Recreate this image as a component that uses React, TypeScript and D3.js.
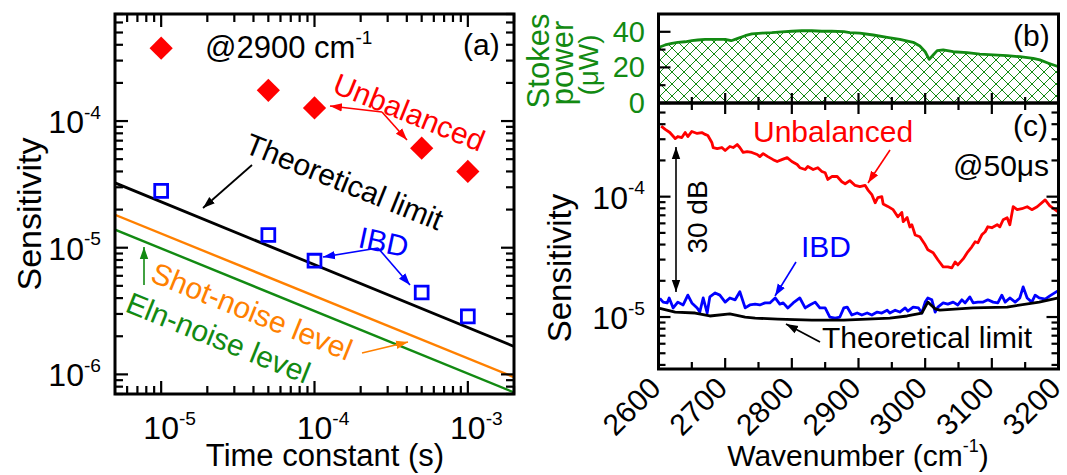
import React, { useEffect, useRef } from 'react';
import * as d3 from 'd3';

const WIDTH = 1067;
const HEIGHT = 475;
const FONT = 'Arial, "Liberation Sans", Helvetica, sans-serif';

const RED = '#ff0000';
const BLUE = '#0000ff';
const ORANGE = '#ff8000';
const GREEN = '#128a12';

// ---- panel (a): sensitivity vs time constant, @2900 cm-1
const timeConstants = [1e-5, 5e-5, 1e-4, 5e-4, 1e-3];
const unbalancedVsTau = [3.76e-4, 1.75e-4, 1.27e-4, 6.1e-5, 4.0e-5];
const ibdVsTau = [2.81e-5, 1.26e-5, 7.9e-6, 4.43e-6, 2.87e-6];
const lineTau = [5e-6, 2e-3];
const theoryVsTau = [3.25e-5, 1.66e-6];
const shotVsTau = [1.82e-5, 0.95e-6];
const elnVsTau = [1.39e-5, 0.72e-6];
const tauTickExps = ['-5', '-4', '-3'];
const sensTickExpsA = ['-4', '-5', '-6'];

// ---- panel (b): Stokes power (uW)
const stokesWn = [2600, 2610, 2620, 2629, 2640, 2650, 2659, 2670, 2680, 2689, 2700, 2709, 2719, 2730, 2740, 2755,
  2770, 2785, 2800, 2815, 2830, 2845, 2860, 2878, 2887, 2902, 2922, 2943, 2962, 2982, 2992, 3000, 3006, 3012,
  3018, 3027, 3042, 3063, 3082, 3102, 3123, 3142, 3162, 3172, 3184, 3199];
const stokesPower = [31.2, 32.6, 33.5, 34.1, 34.4, 35.0, 35.4, 35.8, 35.8, 35.8, 35.8, 35.0, 36.3, 37.8, 38.8, 39.3,
  39.5, 39.9, 40.3, 40.6, 40.6, 40.3, 40.3, 40.1, 39.5, 39.2, 38.2, 36.9, 35.8, 34.1, 32.0, 28.8, 24.5, 27.0,
  29.4, 29.8, 28.8, 28.3, 27.5, 27.0, 26.6, 26.0, 25.1, 24.2, 22.5, 20.5];
const powerTicks = ['0', '20', '40'];

// ---- panel (c): sensitivity vs wavenumber, @50 us
const unbalWn = [2604, 2610, 2617, 2625, 2629, 2635, 2640, 2644, 2650, 2658,
  2665, 2670, 2674, 2680, 2682, 2688, 2695, 2700, 2707, 2712,
  2718, 2722, 2727, 2733, 2740, 2748, 2752, 2757, 2764, 2772,
  2778, 2785, 2793, 2800, 2808, 2812, 2820, 2824, 2832, 2839,
  2845, 2850, 2854, 2860, 2868, 2875, 2880, 2887, 2895, 2902,
  2910, 2914, 2920, 2925, 2929, 2935, 2937, 2944, 2952, 2959,
  2965, 2967, 2973, 2977, 2980, 2985, 2992, 3000, 3004, 3012,
  3019, 3027, 3034, 3040, 3045, 3049, 3057, 3064, 3070, 3075,
  3079, 3085, 3090, 3094, 3100, 3108, 3112, 3117, 3123, 3127,
  3132, 3138, 3145, 3153, 3160, 3168, 3180, 3187, 3199];
const unbalSens = [3.85e-4, 3.62e-4, 3.41e-4, 3.04e-4, 3.16e-4, 3.10e-4, 3.41e-4, 3.16e-4, 3.48e-4, 3.35e-4,
  3.41e-4, 3.29e-4, 3.22e-4, 2.82e-4, 2.56e-4, 2.51e-4, 2.56e-4, 2.42e-4, 2.61e-4, 2.56e-4,
  2.71e-4, 2.56e-4, 2.33e-4, 2.37e-4, 2.33e-4, 2.24e-4, 2.15e-4, 2.28e-4, 2.15e-4, 2.03e-4,
  1.96e-4, 2.03e-4, 2.11e-4, 1.96e-4, 1.85e-4, 1.74e-4, 1.68e-4, 1.78e-4, 1.68e-4, 1.74e-4,
  1.62e-4, 1.58e-4, 1.39e-4, 1.47e-4, 1.47e-4, 1.33e-4, 1.28e-4, 1.36e-4, 1.24e-4, 1.21e-4,
  1.24e-4, 1.14e-4, 1.04e-4, 8.9e-5, 9.8e-5, 1.0e-4, 8.7e-5, 8.3e-5, 7.8e-5, 6.8e-5,
  7.4e-5, 6.2e-5, 6.7e-5, 5.6e-5, 5.85e-5, 4.8e-5, 4.64e-5, 3.98e-5, 3.62e-5, 3.42e-5,
  2.99e-5, 2.61e-5, 2.61e-5, 2.56e-5, 2.87e-5, 2.71e-5, 3.04e-5, 3.48e-5, 3.83e-5, 4.22e-5,
  4.14e-5, 4.82e-5, 5.11e-5, 5.62e-5, 5.52e-5, 5.85e-5, 5.62e-5, 6.43e-5, 6.68e-5, 5.85e-5,
  8.25e-5, 7.8e-5, 7.94e-5, 8.25e-5, 7.8e-5, 8.25e-5, 9.4e-5, 8.4e-5, 7.5e-5];

const ibdWn = [2602, 2607, 2613, 2616, 2622, 2629, 2637, 2644, 2650, 2658,
  2662, 2667, 2673, 2677, 2685, 2692, 2700, 2707, 2715, 2722,
  2730, 2737, 2745, 2752, 2760, 2767, 2775, 2782, 2787, 2794,
  2802, 2812, 2820, 2827, 2835, 2842, 2850, 2857, 2865, 2872,
  2878, 2883, 2890, 2898, 2905, 2913, 2920, 2928, 2935, 2943,
  2947, 2955, 2962, 2970, 2974, 2982, 2990, 2995, 3000, 3004,
  3010, 3015, 3019, 3027, 3034, 3042, 3049, 3055, 3060, 3067,
  3072, 3079, 3087, 3094, 3102, 3109, 3115, 3120, 3127, 3135,
  3142, 3147, 3153, 3160, 3165, 3171, 3180, 3187, 3199];
const ibdSens = [1.43e-5, 1.33e-5, 1.31e-5, 1.44e-5, 1.19e-5, 1.33e-5, 1.26e-5, 1.52e-5, 1.31e-5, 1.19e-5,
  1.10e-5, 1.44e-5, 1.08e-5, 1.47e-5, 1.585e-5, 1.52e-5, 1.33e-5, 1.44e-5, 1.39e-5, 1.62e-5,
  1.19e-5, 1.26e-5, 1.28e-5, 1.26e-5, 1.31e-5, 1.31e-5, 1.44e-5, 1.28e-5, 1.31e-5, 1.19e-5,
  1.31e-5, 1.44e-5, 1.19e-5, 1.26e-5, 1.33e-5, 1.19e-5, 1.19e-5, 1.0e-5, 0.98e-5, 1.0e-5,
  1.19e-5, 1.21e-5, 1.04e-5, 1.08e-5, 1.04e-5, 1.08e-5, 1.04e-5, 1.10e-5, 1.08e-5, 1.14e-5,
  1.08e-5, 1.14e-5, 1.10e-5, 1.19e-5, 1.12e-5, 1.21e-5, 1.19e-5, 1.08e-5, 1.33e-5, 1.44e-5,
  1.39e-5, 1.10e-5, 1.21e-5, 1.31e-5, 1.28e-5, 1.33e-5, 1.26e-5, 1.39e-5, 1.31e-5, 1.47e-5,
  1.31e-5, 1.33e-5, 1.33e-5, 1.39e-5, 1.33e-5, 1.31e-5, 1.52e-5, 1.33e-5, 1.44e-5, 1.33e-5,
  1.44e-5, 1.78e-5, 1.44e-5, 1.33e-5, 1.52e-5, 1.44e-5, 1.41e-5, 1.50e-5, 1.65e-5];

const limitWn = [2602, 2625, 2655, 2677, 2707, 2730, 2745, 2779, 2830, 2878, 2913, 2947, 2973, 2995, 3004, 3015,
  3022, 3072, 3123, 3171, 3200];
const limitSens = [1.18e-5, 1.10e-5, 1.08e-5, 1.02e-5, 1.06e-5, 1.0e-5, 0.98e-5, 0.96e-5, 0.944e-5, 0.944e-5,
  0.96e-5, 0.98e-5, 1.02e-5, 1.08e-5, 1.33e-5, 1.17e-5, 1.14e-5, 1.19e-5, 1.21e-5, 1.33e-5, 1.44e-5];
const wnTicks = [2600, 2700, 2800, 2900, 3000, 3100, 3200];
const sensTickExpsC = ['-4', '-5'];

// minor ticks 2..9 x 10^k inside a log domain
const logMinors = (lo, hi) => {
  const out = [];
  for (let e = Math.floor(Math.log10(lo)); e <= Math.ceil(Math.log10(hi)); e++) {
    for (let m = 2; m <= 9; m++) {
      const v = m * Math.pow(10, e);
      if (v >= lo && v <= hi) out.push(v);
    }
  }
  return out;
};

const App = () => {
  const svgRef = useRef(null);

  useEffect(() => {
    const svg = d3.select(svgRef.current);
    svg.selectAll('*').remove();
    const defs = svg.append('defs');

    // arrow heads, one per colour
    [['k', '#000'], ['r', RED], ['b', BLUE], ['o', ORANGE], ['g', GREEN]].forEach(([id, c]) => {
      defs.append('marker')
        .attr('id', 'ah-' + id)
        .attr('viewBox', '0 0 10 10')
        .attr('refX', 10).attr('refY', 5)
        .attr('markerWidth', 12).attr('markerHeight', 12)
        .attr('markerUnits', 'userSpaceOnUse')
        .attr('orient', 'auto-start-reverse')
        .append('path').attr('d', 'M0,1.5 L10,5 L0,8.5 z').attr('fill', c);
    });

    // cross hatch for the Stokes power area
    const pat = defs.append('pattern').attr('id', 'hatch')
      .attr('patternUnits', 'userSpaceOnUse').attr('width', 12).attr('height', 12);
    pat.append('path').attr('d', 'M0,0L12,12M12,0L0,12')
      .attr('stroke', GREEN).attr('stroke-width', 1).attr('fill', 'none');

    const text = (g, x, y, str, opts = {}) => {
      const { size = 30, color = '#000', rotate = 0, anchor = 'start' } = opts;
      return g.append('text')
        .attr('transform', `translate(${x},${y}) rotate(${rotate})`)
        .attr('text-anchor', anchor)
        .attr('font-family', FONT)
        .attr('font-size', size)
        .attr('fill', color)
        .text(str);
    };
    const powText = (g, x, y, exp, anchor, size = 32) => {
      const t = g.append('text').attr('x', x).attr('y', y)
        .attr('text-anchor', anchor).attr('font-family', FONT).attr('font-size', size);
      t.append('tspan').text('10');
      t.append('tspan').attr('dy', -size * 0.45).attr('font-size', size * 0.6).text(exp);
      return t;
    };
    const arrow = (g, x1, y1, x2, y2, color, id, both = false, w = 1.6) => {
      const l = g.append('line')
        .attr('x1', x1).attr('y1', y1).attr('x2', x2).attr('y2', y2)
        .attr('stroke', color).attr('stroke-width', w)
        .attr('marker-end', `url(#ah-${id})`);
      if (both) l.attr('marker-start', `url(#ah-${id})`);
    };
    // inward ticks: side = left/right/top/bottom of a frame
    const ticks = (g, vals, scale, side, at, len, w = 2.2) => {
      vals.forEach(v => {
        const p = scale(v);
        let a;
        if (side === 'left') a = [at, p, at + len, p];
        else if (side === 'right') a = [at, p, at - len, p];
        else if (side === 'top') a = [p, at, p, at + len];
        else a = [p, at, p, at - len];
        g.append('line').attr('x1', a[0]).attr('y1', a[1]).attr('x2', a[2]).attr('y2', a[3])
          .attr('stroke', '#000').attr('stroke-width', w);
      });
    };
    const frame = (g, x0, y0, x1, y1) => g.append('rect')
      .attr('x', x0).attr('y', y0).attr('width', x1 - x0).attr('height', y1 - y0)
      .attr('fill', 'none').attr('stroke', '#000').attr('stroke-width', 3);

    // ================= panel (a) =================
    const A = { l: 115, r: 514, t: 14, b: 394 };
    const xA = d3.scaleLog().domain([5e-6, 2e-3]).range([A.l, A.r]);
    const yA = d3.scaleLog().domain([7e-7, 7e-4]).range([A.b, A.t]);
    const gA = svg.append('g');
    defs.append('clipPath').attr('id', 'clipA').append('rect')
      .attr('x', A.l).attr('y', A.t).attr('width', A.r - A.l).attr('height', A.b - A.t);

    const lineA = d3.line().x(d => xA(d[0])).y(d => yA(d[1]));
    const plotA = gA.append('g').attr('clip-path', 'url(#clipA)');
    [[elnVsTau, GREEN, 2.4], [shotVsTau, ORANGE, 2.4], [theoryVsTau, '#000', 2.8]].forEach(([vals, c, w]) => {
      plotA.append('path').datum(lineTau.map((t, i) => [t, vals[i]]))
        .attr('fill', 'none').attr('stroke', c).attr('stroke-width', w).attr('d', lineA);
    });
    plotA.selectAll('.dia').data(timeConstants.map((t, i) => [t, unbalancedVsTau[i]]))
      .enter().append('path')
      .attr('transform', d => `translate(${xA(d[0])},${yA(d[1])}) rotate(45)`)
      .attr('d', d3.symbol(d3.symbolSquare, 270)())
      .attr('fill', RED);
    plotA.selectAll('.sq').data(timeConstants.map((t, i) => [t, ibdVsTau[i]]))
      .enter().append('path')
      .attr('transform', d => `translate(${xA(d[0])},${yA(d[1])})`)
      .attr('d', d3.symbol(d3.symbolSquare, 165)())
      .attr('fill', 'none').attr('stroke', BLUE).attr('stroke-width', 2.8);

    frame(gA, A.l, A.t, A.r, A.b);
    const majA = [1e-5, 1e-4, 1e-3];
    const minA = logMinors(5e-6, 2e-3).filter(v => !majA.some(m => Math.abs(m - v) / m < 1e-6));
    ticks(gA, majA, xA, 'bottom', A.b, 13);
    ticks(gA, majA, xA, 'top', A.t, 13);
    ticks(gA, minA, xA, 'bottom', A.b, 8);
    ticks(gA, minA, xA, 'top', A.t, 8);
    const majYA = [1e-4, 1e-5, 1e-6];
    const minYA = logMinors(7e-7, 7e-4);
    ticks(gA, majYA, yA, 'left', A.l, 13);
    ticks(gA, majYA, yA, 'right', A.r, 13);
    ticks(gA, minYA, yA, 'left', A.l, 8);
    ticks(gA, minYA, yA, 'right', A.r, 8);

    majA.forEach((v, i) => powText(gA, xA(v) - 17.8, 439, tauTickExps[i], 'start'));
    majYA.forEach((v, i) => powText(gA, 101, yA(v) + 12, sensTickExpsA[i], 'end'));

    text(gA, 325, 466, 'Time constant (s)', { size: 31, anchor: 'middle' });
    text(gA, 41, 214, 'Sensitivity', { size: 34, anchor: 'middle', rotate: -90 });

    const at = gA.append('text').attr('x', 205).attr('y', 58)
      .attr('font-family', FONT).attr('font-size', 31);
    at.append('tspan').text('@2900 cm');
    at.append('tspan').attr('dy', -14).attr('font-size', 19).text('-1');
    text(gA, 463, 55, '(a)', { size: 30 });

    text(gA, 331, 92, 'Unbalanced', { color: RED, rotate: 22 });
    arrow(gA, 382, 112, 330, 106, RED, 'r');
    arrow(gA, 382, 112, 407, 140, RED, 'r');

    text(gA, 243, 152, 'Theoretical limit', { rotate: 22 });
    arrow(gA, 252, 165, 203, 208, '#000', 'k', false, 1.8);

    text(gA, 357, 247, 'IBD', { color: BLUE, rotate: 12 });
    arrow(gA, 378, 248, 323, 257, BLUE, 'b');
    arrow(gA, 378, 248, 410, 285, BLUE, 'b');

    text(gA, 149, 281, 'Shot-noise level', { color: ORANGE, rotate: 22 });
    arrow(gA, 362, 353, 408, 342, ORANGE, 'o');
    text(gA, 124, 311, 'Eln-noise level', { color: GREEN, rotate: 22 });
    arrow(gA, 144, 285, 144, 247, GREEN, 'g');

    // ================= panel (b) =================
    const B = { l: 658.5, r: 1058.5, t: 14, b: 103 };
    const xW = d3.scaleLinear().domain([2600, 3200]).range([B.l, B.r]);
    const yB = d3.scaleLinear().domain([0, 50]).range([B.b, B.t]);
    const gB = svg.append('g');
    const stokes = stokesWn.map((w, i) => [w, stokesPower[i]]);
    gB.append('path').datum(stokes)
      .attr('fill', 'url(#hatch)')
      .attr('d', d3.area().x(d => xW(d[0])).y0(yB(0)).y1(d => yB(d[1])));
    gB.append('path').datum(stokes)
      .attr('fill', 'none').attr('stroke', GREEN).attr('stroke-width', 2.8).attr('stroke-linejoin', 'round')
      .attr('d', d3.line().x(d => xW(d[0])).y(d => yB(d[1])));
    frame(gB, B.l, B.t, B.r, B.b);
    ticks(gB, [0, 20, 40], yB, 'left', B.l, 12);
    ticks(gB, [10, 30], yB, 'left', B.l, 7);
    const wnMajor = wnTicks;
    const wnMinor = d3.range(2650, 3200, 100);
    ticks(gB, wnMajor, xW, 'bottom', B.b, 10);
    ticks(gB, wnMinor, xW, 'bottom', B.b, 6);
    [0, 20, 40].forEach((v, i) => text(gB, 645, yB(v) + 10, powerTicks[i], { size: 29, color: GREEN, anchor: 'end' }));
    text(gB, 549, 61, 'Stokes', { size: 31, color: GREEN, anchor: 'middle', rotate: -90 });
    text(gB, 573, 63, 'power', { size: 31, color: GREEN, anchor: 'middle', rotate: -90 });
    text(gB, 598, 65, '(μW)', { size: 28, color: GREEN, anchor: 'middle', rotate: -90 });
    text(gB, 1013, 46, '(b)', { size: 30 });

    // ================= panel (c) =================
    const C = { l: 658.5, r: 1058.5, t: 103, b: 369 };
    const yC = d3.scaleLog().domain([3.7e-6, 6e-4]).range([C.b, C.t]);
    const gC = svg.append('g');
    defs.append('clipPath').attr('id', 'clipC').append('rect')
      .attr('x', C.l).attr('y', C.t).attr('width', C.r - C.l).attr('height', C.b - C.t);
    const plotC = gC.append('g').attr('clip-path', 'url(#clipC)');
    const lineC = d3.line().x(d => xW(d[0])).y(d => yC(d[1]));
    [[unbalWn, unbalSens, RED], [ibdWn, ibdSens, BLUE], [limitWn, limitSens, '#000']].forEach(([wn, s, c]) => {
      plotC.append('path').datum(wn.map((w, i) => [w, s[i]]))
        .attr('fill', 'none').attr('stroke', c).attr('stroke-width', 2.8)
        .attr('stroke-linejoin', 'round').attr('d', lineC);
    });
    frame(gC, C.l, C.t, C.r, C.b);
    const majYC = [1e-4, 1e-5];
    const minYC = logMinors(3.7e-6, 6e-4);
    ticks(gC, majYC, yC, 'left', C.l, 12);
    ticks(gC, majYC, yC, 'right', C.r, 12);
    ticks(gC, minYC, yC, 'left', C.l, 7);
    ticks(gC, minYC, yC, 'right', C.r, 7);
    ticks(gC, wnMajor, xW, 'top', C.t, 11);
    ticks(gC, wnMinor, xW, 'top', C.t, 7);
    ticks(gC, wnMajor, xW, 'bottom', C.b, 11);
    ticks(gC, wnMinor, xW, 'bottom', C.b, 7);
    majYC.forEach((v, i) => powText(gC, 645, yC(v) + 12, sensTickExpsC[i], 'end'));
    wnTicks.forEach(v => text(gC, xW(v) + 4, 390, String(v), { size: 30, anchor: 'end', rotate: -45 }));

    const wt = gC.append('text').attr('x', 858).attr('y', 466).attr('text-anchor', 'middle')
      .attr('font-family', FONT).attr('font-size', 30);
    wt.append('tspan').text('Wavenumber (cm');
    wt.append('tspan').attr('dy', -14).attr('font-size', 18).text('-1');
    wt.append('tspan').attr('dy', 14).text(')');
    text(gC, 571, 268, 'Sensitivity', { size: 33, anchor: 'middle', rotate: -90 });

    text(gC, 1013, 136, '(c)', { size: 30 });
    text(gC, 953, 176, '@50μs', { size: 30 });
    text(gC, 753, 142, 'Unbalanced', { size: 30, color: RED });
    arrow(gC, 890, 150, 868, 183, RED, 'r');
    text(gC, 801, 257, 'IBD', { size: 30, color: BLUE });
    arrow(gC, 796, 262, 775, 296, BLUE, 'b');
    text(gC, 822, 348, 'Theoretical limit', { size: 30 });
    arrow(gC, 820, 342, 786, 324, '#000', 'k', false, 1.8);
    arrow(gC, 676, 147, 676, 292, '#000', 'k', true, 1.6);
    text(gC, 707, 217, '30 dB', { size: 28, anchor: 'middle', rotate: -90 });
  }, []);

  return (
    <svg
      ref={svgRef}
      width={WIDTH}
      height={HEIGHT}
      style={{ position: 'absolute', left: 0, top: 0, background: '#fff' }}
    />
  );
};

export default App;
